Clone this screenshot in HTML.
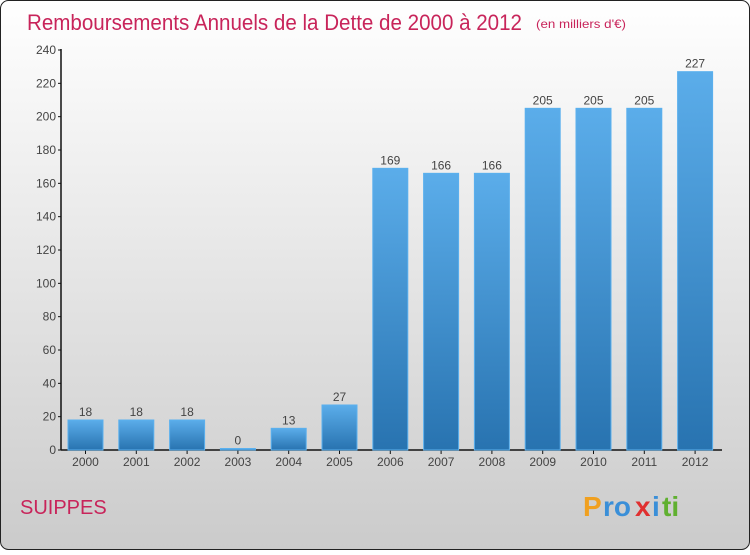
<!DOCTYPE html>
<html><head><meta charset="utf-8"><style>
html,body{margin:0;padding:0;}
body{width:750px;height:550px;overflow:hidden;font-family:"Liberation Sans",sans-serif;}
</style></head><body>
<svg width="750" height="550" xmlns="http://www.w3.org/2000/svg">
<defs>
<linearGradient id="bg" x1="0" y1="0" x2="0" y2="1"><stop offset="0" stop-color="#ffffff"/><stop offset="1" stop-color="#cbcbcb"/></linearGradient>
<linearGradient id="bar" x1="0" y1="0" x2="0" y2="1"><stop offset="0" stop-color="#5badea"/><stop offset="1" stop-color="#2873b0"/></linearGradient>
</defs>
<rect x="0.5" y="0.5" width="749" height="549" rx="8" fill="url(#bg)" stroke="#222"/>
<text x="27" y="30" font-size="22" fill="#c8245a" textLength="495" lengthAdjust="spacingAndGlyphs">Remboursements Annuels de la Dette de 2000 à 2012</text>
<text x="536" y="28" font-size="12" fill="#c8245a" textLength="90" lengthAdjust="spacingAndGlyphs">(en milliers d'€)</text>
<text x="20" y="514" font-size="20" fill="#c8245a">SUIPPES</text>
<g font-size="28" font-weight="bold">
<text x="583" y="516" fill="#f0a020">P</text><text x="603" y="516" fill="#3a8fd8">ro</text><text x="635" y="516" fill="#e03030">x</text><text x="652" y="516" fill="#3a8fd8">i</text><text x="662" y="516" fill="#60b030">ti</text>
</g>
<g id="axes"></g>
<g id="bars"></g>
</svg>
<script>
const categories=["2000","2001","2002","2003","2004","2005","2006","2007","2008","2009","2010","2011","2012"];
const values=[18,18,18,0,13,27,169,166,166,205,205,205,227];
const yTicks=[0,20,40,60,80,100,120,140,160,180,200,220,240];
const NS="http://www.w3.org/2000/svg";
const y0=450,yScale=400/240;
function yPos(v){return y0-v*yScale;}
function xCenter(i){return 85.5+i*50.8;}
const axes=document.getElementById('axes'),bars=document.getElementById('bars');
function mk(tag,attrs,parent){const e=document.createElementNS(NS,tag);for(const k in attrs)e.setAttribute(k,attrs[k]);parent.appendChild(e);return e;}
let l=mk('line',{x1:61,y1:49,x2:61,y2:450,stroke:'#111','stroke-width':1.5},axes);


l=mk('line',{x1:61,y1:450,x2:722,y2:450,stroke:'#111','stroke-width':1.5},axes);


yTicks.forEach(v=>{
 const t=mk('line',{x1:58,y1:yPos(v),x2:61,y2:yPos(v),stroke:'#111'},axes);
 
 
 const tx=mk('text',{x:56,y:yPos(v)+4,'text-anchor':'end','font-size':12,fill:'#444'},axes);
 tx.textContent=v;
 
 
});
categories.forEach((c,i)=>{
 const cx=xCenter(i),v=values[i];
 const h=Math.max(v*yScale,1.5);
 const r=mk('rect',{x:cx-17.5,y:y0-h,width:35,height:h,fill:'url(#bar)',stroke:'#5ab0ee','stroke-width':1},bars);
 
 
 const vl=mk('text',{x:cx,y:y0-h-4,'text-anchor':'middle','font-size':12,fill:'#444'},bars);
 vl.textContent=v;
 
 
 const t=mk('line',{x1:cx,y1:450,x2:cx,y2:454,stroke:'#111'},axes);
 
 
 const xl=mk('text',{x:cx,y:466,'text-anchor':'middle','font-size':12,fill:'#444'},axes);
 xl.textContent=c;
 
 
});
</script>
</body></html>
